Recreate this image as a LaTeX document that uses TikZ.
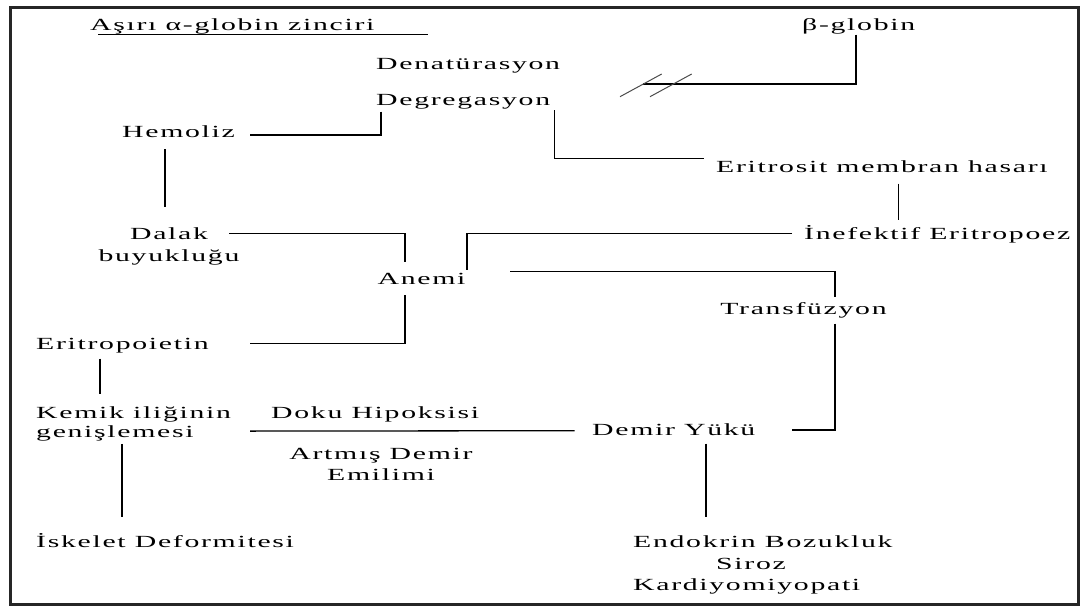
\documentclass[tikz,border=0pt]{standalone}
\usepackage{fontspec}
\setmainfont{Liberation Serif}[FakeStretch=1.75,LetterSpace=10]
\begin{document}
\begin{tikzpicture}[x=1pt,y=-1pt,
  lbl/.style={inner sep=0pt,text height=12pt,text depth=4pt,font=\fontsize{17}{21.7}\selectfont},
  mlbl/.style={inner sep=0pt,font=\fontsize{17}{21.7}\selectfont},
  lnk/.style={line width=1.3pt},
  slash/.style={line width=1pt,black!70}]
\useasboundingbox (0,0) rectangle (1081,608);
\draw[line width=3pt,black!85] (10,7.5) rectangle (1078,604.5);
\node[lbl,anchor=base west] (title) at (90,30) {Aşırı α-globin zinciri};
\draw[line width=1pt] ([xshift=8pt]title.south west) -- ([xshift=338pt]title.south west);
\node[lbl,anchor=base west] (dena) at (376,69) {Denatürasyon};
\node[lbl,anchor=base west] (deg) at (376,105.5) {Degregasyon};
\node[lbl,anchor=base west] (hem) at (122,137.3) {Hemoliz};
\node[lbl,anchor=base west] (beta) at (802,30.5) {β-globin};
\node[lbl,anchor=base west] (eri) at (716,172) {Eritrosit membran hasarı};
\node[lbl,anchor=base west] (inef) at (804,239) {İnefektif Eritropoez};
\node[mlbl,anchor=north,align=center] (dalak) at (169,227.4) {Dalak\\buyukluğu};
\node[lbl,anchor=base] (anemi) at (421.5,284) {Anemi};
\node[lbl,anchor=base] (trans) at (803.5,314) {Transfüzyon};
\node[lbl,anchor=base west] (epo) at (36,349) {Eritropoietin};
\node[mlbl,anchor=north west,align=left] (kemik) at (36,406.9) {Kemik iliğinin\\[-3.2pt]genişlemesi};
\node[lbl,anchor=base west] (doku) at (271,418.5) {Doku Hipoksisi};
\node[mlbl,anchor=north,align=center] (artmis) at (381,447.7) {Artmış Demir\\Emilimi};
\node[lbl,anchor=base west] (demir) at (592,435.5) {Demir Yükü};
\node[lbl,anchor=base west] (isk) at (36,547) {İskelet Deformitesi};
\node[mlbl,anchor=north west,align=left] (endo) at (633,535.4) {Endokrin Bozukluk\\\hspace*{83pt}Siroz\\Kardiyomiyopati};
\coordinate (brk) at (643,84);
\draw[lnk,shorten <=2pt] ([xshift=5pt]deg.south west) |- ([shift={(128pt,-1.7pt)}]hem.west);
\draw[lnk] ([xshift=54pt]beta.south west) |- (brk);
\draw[slash] ([shift={(-23,12.7)}]brk) -- ([shift={(18.7,-10)}]brk);
\draw[slash] ([shift={(7,12.7)}]brk) -- ([shift={(48.7,-10)}]brk);
\draw[lnk,shorten <=0.5pt] ([xshift=178.5pt]deg.south west) |- ([shift={(-12pt,9.7pt)}]eri.west);
\draw[lnk,shorten <=7.3pt,shorten >=7pt] ([xshift=182.6pt]eri.south west) -- ([xshift=182.6pt]eri.south west |- inef.north);
\draw[lnk] ([shift={(-12pt,1.7pt)}]inef.west) -| ([shift={(45.5pt,2pt)}]anemi.north);
\draw[lnk] ([shift={(60pt,-6.3pt)}]dalak.north) -| ([shift={(-16.5pt,10.3pt)}]anemi.north);
\draw[lnk,shorten <=7.7pt,shorten >=20.3pt] ([xshift=43pt]hem.south west) -- ([xshift=43pt]hem.south west |- dalak.north);
\draw[lnk] ([shift={(88.5pt,0.3pt)}]anemi.north) -| ([shift={(31.5pt,5.3pt)}]trans.north);
\draw[lnk,shorten <=5.3pt] ([xshift=31.5pt]trans.south) |- ([shift={(200pt,1.5pt)}]demir.west);
\draw[lnk,shorten <=7pt] ([xshift=-16.5pt]anemi.south) |- ([shift={(214pt,1.7pt)}]epo.west);
\draw[lnk,shorten <=5.3pt,shorten >=13.2pt] ([xshift=64pt]epo.south west) -- ([xshift=64pt]epo.south west |- kemik.north);
\draw[lnk] ([shift={(214pt,-24.2pt)}]kemik.north west) -- ([shift={(-17.5pt,0.8pt)}]demir.west);
\draw[lnk,shorten <=2.5pt,shorten >=18.3pt] ([xshift=86pt]kemik.south west) -- ([xshift=86pt]kemik.south west |- isk.north);
\draw[lnk,shorten <=3.8pt,shorten >=18.3pt] ([xshift=114pt]demir.south west) -- ([xshift=114pt]demir.south west |- endo.north);
\end{tikzpicture}
\end{document}
